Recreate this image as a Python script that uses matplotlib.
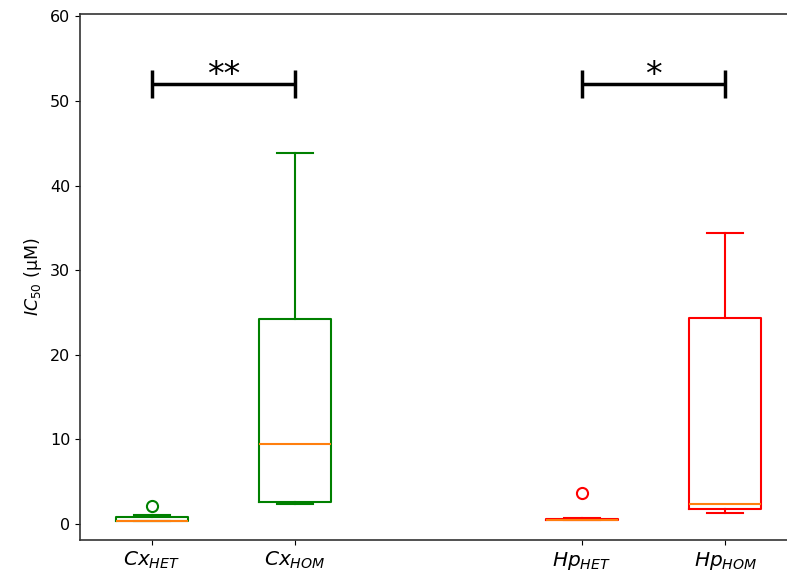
import matplotlib
matplotlib.use("Agg")
import matplotlib.pyplot as plt

# box statistics (IC50, uM)
labels = ["$Cx_{HET}$", "$Cx_{HOM}$", "$Hp_{HET}$", "$Hp_{HOM}$"]
positions = [1, 2, 4, 5]
colors = ["green", "green", "red", "red"]
whislo = [0.30, 2.4, 0.45, 1.26]
q1 = [0.30, 2.6, 0.48, 1.74]
med = [0.38, 9.45, 0.52, 2.36]
q3 = [0.86, 24.2, 0.62, 24.35]
whishi = [1.06, 43.8, 0.70, 34.4]
fliers = [[2.13], [], [3.6], []]

# significance brackets
sig_pairs = [(1, 2), (4, 5)]
sig_y = [52, 52]
sig_text = ["**", "*"]

fig = plt.figure(figsize=(7.87, 5.77), dpi=100)
ax = fig.add_axes([0.1017, 0.0641, 0.911, 0.9125])

for i in range(len(labels)):
    stats = [{
        "whislo": whislo[i], "q1": q1[i], "med": med[i], "q3": q3[i],
        "whishi": whishi[i], "fliers": fliers[i], "label": labels[i],
    }]
    c = colors[i]
    ax.bxp(stats, positions=[positions[i]], widths=0.5,
           boxprops=dict(color=c, linewidth=1.5),
           whiskerprops=dict(color=c, linewidth=1.5),
           capprops=dict(color=c, linewidth=1.5),
           medianprops=dict(color="C1", linewidth=1.5),
           flierprops=dict(marker="o", markeredgecolor=c, markerfacecolor="none",
                           markersize=8, markeredgewidth=1.5))

for (a, b), y, t in zip(sig_pairs, sig_y, sig_text):
    ax.errorbar((a + b) / 2, y, xerr=(b - a) / 2, color="black",
                elinewidth=2.5, capsize=10, capthick=2.5)
    ax.text((a + b) / 2, y - 0.9, t, ha="center", va="bottom", fontsize=24)

for s in ax.spines.values():
    s.set_color("#333333")
    s.set_linewidth(1.2)

ax.set_xticks(positions)
ax.set_xticklabels(labels, fontsize=14.5)
ax.set_xlim(0.5, 5.5)
ax.set_ylim(-1.9, 60.35)
ax.set_yticks([0, 10, 20, 30, 40, 50, 60])
ax.tick_params(axis="y", labelsize=11.5)
ax.set_ylabel("$IC_{50}$ (µM)", fontsize=12.5)

fig.savefig("out.png", dpi=100)
